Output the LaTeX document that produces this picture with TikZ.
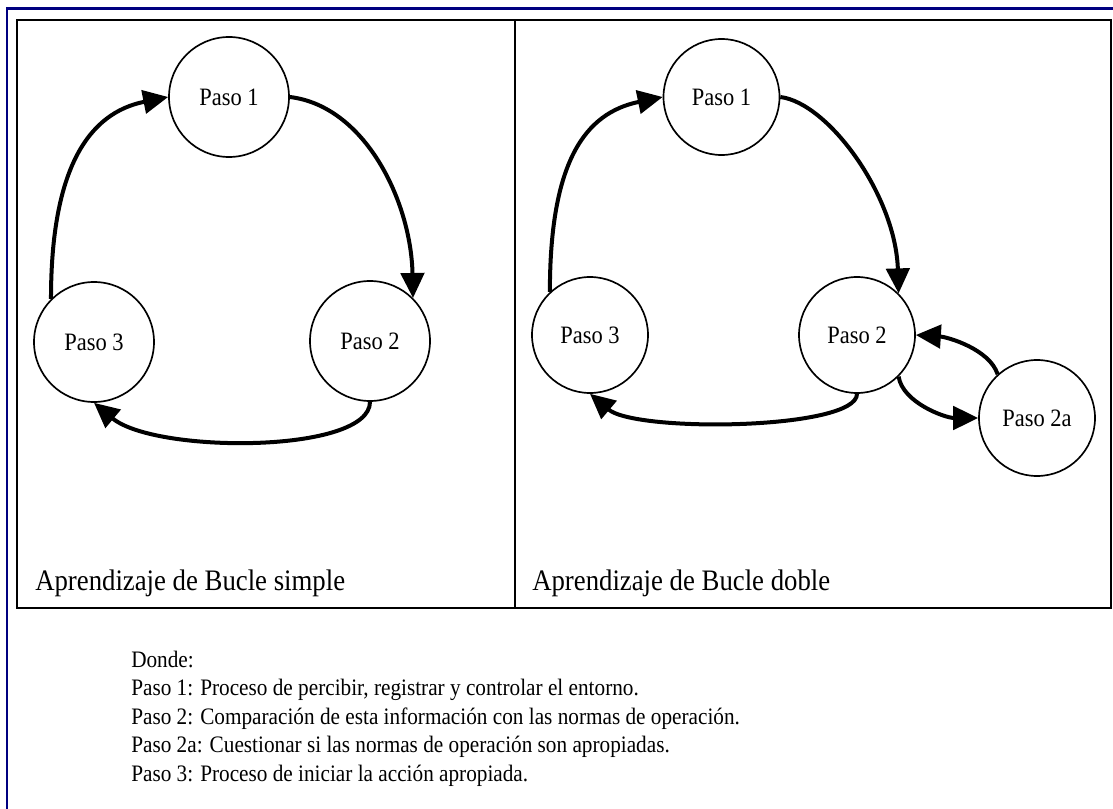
\documentclass[tikz,border=0pt]{standalone}
\usepackage{fontspec}
\setmainfont{Liberation Serif}
\newfontfamily\narrowserif[FakeStretch=0.9]{Liberation Serif}
\usetikzlibrary{arrows.meta,calc}
\definecolor{framenavy}{RGB}{0,0,128}

\begin{document}
\begin{tikzpicture}[x=0.75pt,y=0.75pt,
  stepnode/.style={circle,draw,line width=1.25pt,minimum size=90pt,inner sep=0pt,
    font=\narrowserif\fontsize{18.75}{20}\selectfont},
  smallstep/.style={stepnode,minimum size=87pt},
  flow/.style={line width=3pt,-{Triangle[length=18.75pt,width=17.5pt]}},
  panel/.style={line width=1.5pt},
  caption/.style={anchor=base west,inner sep=0pt,font=\narrowserif\fontsize{22.3}{24}\selectfont},
  legend/.style={anchor=base west,inner sep=0pt,font=\narrowserif\fontsize{17.7}{20}\selectfont}]
\useasboundingbox (0,0) rectangle (1113,808);

% outer frame and the two panels
\draw[line width=1.9pt,color=framenavy] (7,-5) -- (7,799.5) -- (1120,799.5);
\draw[panel] (17,200) rectangle (1111,788);
\draw[panel] (515,200) -- (515,788);

% single loop
\node[stepnode] (l1) at (229,711) {Paso 1};
\node[stepnode] (l2) at (370,467) {Paso 2};
\node[stepnode] (l3) at (94,466) {Paso 3};

\draw[flow] (l3.135) .. controls ($(l3.135)+(0,130)$) and ($(l1.west)+(-80,-16)$) .. (l1.west);
\draw[flow] (l1.east) .. controls ($(l1.east)+(75,-9)$) and ($(l2.45)+(-2,97)$) .. (l2.45);
\draw[flow] (l2.south) .. controls ($(l2.south)+(0,-52)$) and ($(l3.south)+(61,-51)$) .. (l3.south);

% double loop
\node[smallstep] (r1) at (721.5,711) {Paso 1};
\node[smallstep] (r2) at (857,473) {Paso 2};
\node[smallstep] (r3) at (590,473) {Paso 3};
\node[smallstep] (r2a) at (1037,390) {Paso 2a};

\draw[flow] (r3.133) .. controls ($(r3.133)+(0,130)$) and ($(r1.west)+(-78,-16)$) .. (r1.west);
\draw[flow] (r1.east) .. controls ($(r1.east)+(48,-6)$) and ($(r2.45)+(-3,98)$) .. (r2.45);
\draw[flow] (r2.south) .. controls ($(r2.south)+(0,-36)$) and ($(r3.south)+(46,-39)$) .. (r3.south);
\draw[flow] (r2.-45) .. controls ($(r2.-45)+(4,-26)$) and ($(r2a.west)+(-33,0)$) .. (r2a.west);
\draw[flow] (r2a.132) .. controls ($(r2a.132)+(-8,25)$) and ($(r2.east)+(32,-2)$) .. (r2.east);

% panel captions
\node[caption] (capsimple) at (35,218) {Aprendizaje de Bucle simple};
\node[caption] (capdouble) at (532,218) {Aprendizaje de Bucle doble};

% legend
\node[legend] (key0) at (131,141) {Donde:};
\node[legend] (key1) at (131,112.5) {Paso 1: Proceso de percibir, registrar y controlar el entorno.};
\node[legend] (key2) at (131,84) {Paso 2: Comparación de esta información con las normas de operación.};
\node[legend] (key3) at (131,55.5) {Paso 2a: Cuestionar si las normas de operación son apropiadas.};
\node[legend] (key4) at (131,27) {Paso 3: Proceso de iniciar la acción apropiada.};
\end{tikzpicture}
\end{document}
